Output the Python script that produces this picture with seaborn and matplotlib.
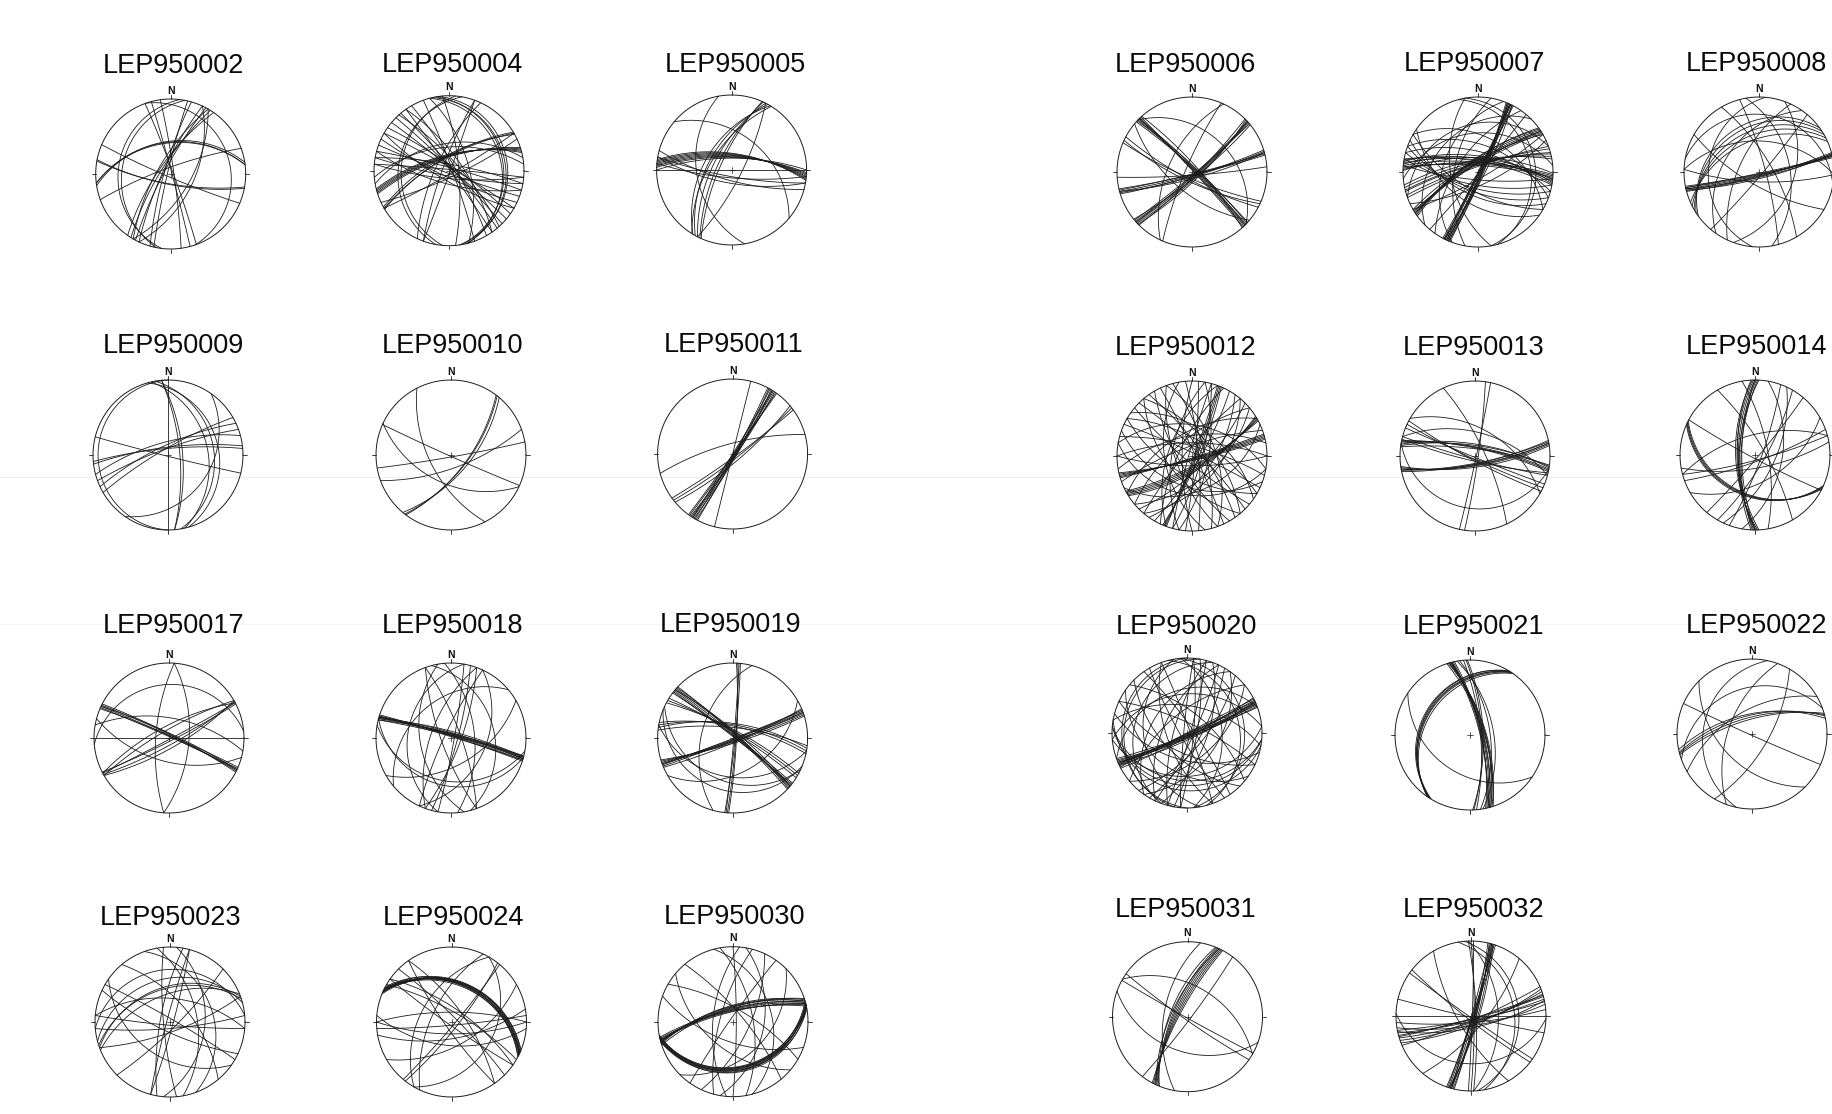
import numpy as np
import pandas as pd
import matplotlib
matplotlib.use("Agg")
import matplotlib.pyplot as plt
from matplotlib.lines import Line2D
import seaborn as sns

# Strike (dip direction = strike + 90) and dip, read from each stereonet
S002 = [263,263,261,100,101,113,187,191,341,193,196,205,208,212,210,215,340,345,352,250,30,25]
D002 = [44,45,43,75,74,85,20,24,13,85,80,78,80,75,70,72,86,88,85,80,60,55]
S004 = [239,240,241,254,255,253,256,252,347,350,345,352,315,320,325,330,310,305,300,325,318,280,285,275,95,100,105,60,65,20,200,205,340,345,190,185,355,260,265,110,115,120]
D004 = [70,71,68,68,67,69,66,70,16,18,20,14,85,84,88,80,86,82,85,70,75,80,85,88,78,82,70,85,80,88,80,70,85,60,22,25,75,50,55,86,80,75]
S005 = [275,273,277,270,278,272,276,274,207,209,205,211,204,212,27,310,95,100,90,100,105,170]
D005 = [68,70,66,72,65,71,67,69,62,55,68,50,72,58,75,40,78,80,90,70,74,40]
S006 = [314,315,316,313,317,312,318,315,48,49,47,50,46,45,51,48,75,76,74,77,73,75,86,314,203,113,115,118,205,130]
D006 = [85,83,87,82,88,84,80,86,82,84,80,86,78,83,81,85,85,87,83,86,84,80,85,33,80,80,75,78,55,60]
S007 = [25,24,26,23,27,22,28,25,26,24,23,27,237,238,236,239,235,237,240,234,275,277,273,279,271,280,272,278,274,276,255,258,252,260,250,256,100,105,110,95,115,120,125,300,290,285,345,350,200,190,215,225,60,65,170,40,250,265]
D007 = [88,86,89,85,87,84,88,83,90,85,82,80,75,77,73,79,71,78,74,72,75,72,78,70,68,74,76,66,80,69,78,75,80,72,82,77,70,65,60,78,55,62,45,40,50,60,20,15,40,55,60,30,80,70,50,88,25,35]
S008 = [77,76,78,75,79,77,76,78,240,243,237,246,234,350,185,330,40,272,92,280,20,205,120,345,215]
D008 = [85,84,86,83,87,82,80,88,33,38,28,44,24,45,22,70,85,45,75,15,40,60,70,80,40]
S009 = [0,355,350,347,344,180,104,265,263,240,245,250,255,35,355]
D009 = [90,68,27,34,22,4,88,80,78,80,75,80,70,30,72]
S010 = [153,38,40,37,114,115,80,70]
D010 = [58,65,62,66,88,48,87,70]
S011 = [32,30,34,28,36,31,33,29,35,32,14,52,50,54,255]
D011 = [86,88,85,87,89,84,87,85,88,90,90,82,78,85,74]
S012 = [75,76,74,77,73,60,61,59,62,58,21,22,20,23,35,40,45,50,15,10,5,355,345,340,335,325,320,315,305,300,295,285,280,270,260,250,240,230,220,205,200,195,190,180,170,160,150,140,130,120,110,100,90,65,30]
D012 = [85,84,86,83,87,72,74,70,76,68,85,83,87,80,60,50,70,55,75,65,85,80,70,55,85,75,60,80,50,65,85,75,45,70,60,75,55,65,80,70,55,85,60,75,50,65,70,55,80,60,45,35,75,40,78]
S013 = [280,278,282,279,281,277,80,81,79,82,78,80,12,8,300,100,115,118,112,105,103,335,285]
D013 = [76,74,78,72,77,79,77,75,79,73,78,76,88,85,50,20,85,83,88,85,82,75,55]
S014 = [180,181,179,182,178,180,183,177,115,116,114,117,118,40,20,70,75,80,60,25,30,255,350,10,330]
D014 = [65,67,63,69,61,70,66,64,33,34,32,35,85,85,80,80,82,70,50,60,75,60,70,50,75]
S017 = [295,296,294,297,293,295,62,63,61,60,240,242,90,265,280,105,4,184]
D017 = [87,85,88,84,86,83,88,85,80,75,78,72,90,19,60,55,60,70]
S018 = [286,287,285,288,284,286,287,285,286,284,10,15,20,25,200,205,190,170,160,355,345,340,60,100,105,230]
D018 = [85,86,84,87,83,82,88,80,84,86,85,80,75,40,60,80,30,45,75,55,30,75,50,30,25,35]
S019 = [310,311,309,312,308,310,313,307,70,71,69,72,68,70,73,67,5,4,6,3,280,282,278,276,300,302,298,115,112,100,60,195]
D019 = [85,83,87,82,88,80,84,86,88,86,89,84,87,85,82,83,88,85,86,84,70,72,68,74,80,82,78,30,20,35,40,45]
S020 = [66,67,65,68,64,66,69,63,67,65,70,62,5,10,15,20,25,30,35,40,50,85,95,105,115,125,135,150,160,170,185,195,205,215,230,250,265,280,295,310,325,340,355,345,200,190,355,180,100,95]
D020 = [88,86,89,85,87,84,83,90,82,80,86,84,80,75,85,60,80,70,45,65,50,30,25,50,60,35,55,80,60,30,85,70,55,40,60,30,35,50,75,60,80,85,40,20,20,10,15,8,15,20]
S021 = [345,346,344,347,343,345,348,342,346,344,213,214,212,215,211,213,124,357,355,358,352,350]
D021 = [70,72,68,74,66,71,73,69,75,67,25,27,23,29,24,26,35,72,74,70,60,55]
S022 = [192,250,114,255,256,254,258,240,30,200,135]
D022 = [24,27,88,65,62,68,60,55,65,55,45]
S023 = [250,252,248,255,265,275,85,95,115,15,5,350,340,320,190,195,175,300,70,45,125]
D023 = [40,42,50,30,20,55,80,85,75,85,40,50,30,60,75,85,80,85,75,80,40]
S024 = [295,296,294,297,293,295,298,292,296,294,40,38,205,210,30,300,305,315,325,80,85,90,95,270,125,145,60]
D024 = [35,36,34,37,33,38,35,34,33,36,85,80,60,45,30,75,70,82,70,65,85,72,55,75,85,80,55]
S030 = [77,78,76,79,75,77,80,74,78,76,255,256,254,257,253,255,258,252,256,254,350,0,10,25,45,185,195,215,300,320,110,130,345]
D030 = [25,26,24,27,23,28,24,26,22,27,70,72,68,74,66,71,73,69,75,67,60,85,45,65,40,60,70,85,70,75,60,50,35]
S031 = [205,206,204,207,203,205,208,202,300,119,125,37,190,110]
D031 = [72,74,70,76,68,66,78,64,45,88,85,85,55,40]
S032 = [16,17,15,18,14,16,19,13,17,15,73,77,71,79,69,75,81,67,78,74,90,103,125,128,85,0,2,358,355,350,358,92,40,150]
D032 = [85,87,83,88,82,80,86,84,78,89,80,82,78,84,76,85,75,83,72,86,90,88,88,84,80,85,88,82,25,30,50,25,70,70]

NAMES = ["LEP950002","LEP950004","LEP950005","LEP950006","LEP950007","LEP950008",
         "LEP950009","LEP950010","LEP950011","LEP950012","LEP950013","LEP950014",
         "LEP950017","LEP950018","LEP950019","LEP950020","LEP950021","LEP950022",
         "LEP950023","LEP950024","LEP950030","LEP950031","LEP950032"]
STRIKES = [S002,S004,S005,S006,S007,S008,S009,S010,S011,S012,S013,S014,S017,S018,S019,S020,S021,S022,S023,S024,S030,S031,S032]
DIPS = [D002,D004,D005,D006,D007,D008,D009,D010,D011,D012,D013,D014,D017,D018,D019,D020,D021,D022,D023,D024,D030,D031,D032]

# layout, in pixels of the 1832x1114 image
CX = [170.7,449,731.6,1192,1478,1759, 168,451,732.6,1192,1475,1755, 169,451,732.6,1187,1470,1752, 170,451.5,733,1187.5,1471]
CY = [174,170.7,170,172,172,172, 455,455,454,456,456,455, 738,738,738,733,735,734, 1022,1022,1021.7,1016.7,1016]
TX = [173,452,735.5,1185.5,1474,1756, 173,452,734,1186,1474,1756, 174,453,731,1186,1474,1756, 170.5,453,735,1186,1474]
TY = [66,65,65,65,64,64, 346,346,345,348,348,347, 626,626,625,627,627,626, 918,918,917,910,910]
W, H, R = 1832, 1114, 75

sns.set_theme(style="white")
plt.rcParams["font.family"] = ["Liberation Sans", "DejaVu Sans"]
INK = "#1c1c1c"


def great_circle(strike, dip):
    s, d = np.radians(strike), np.radians(dip)
    t = np.radians(np.linspace(0, 180, 121))
    e = np.sin(s) * np.cos(t) + np.cos(d) * np.cos(s) * np.sin(t)
    n = np.cos(s) * np.cos(t) - np.cos(d) * np.sin(s) * np.sin(t)
    z = np.sin(d) * np.sin(t)
    return e / (1 + z), n / (1 + z)


fig = plt.figure(figsize=(W / 100, H / 100), dpi=100, facecolor="white")
for yy, col in [(477, "#efefef"), (624, "#f6f6f6")]:
    fig.add_artist(Line2D([0, 1], [1 - yy / H] * 2, color=col, lw=0.8, zorder=-1))

for name, ss, dd, cx, cy, tx, ty in zip(NAMES, STRIKES, DIPS, CX, CY, TX, TY):
    m = 1.2
    px = R * m
    ax = fig.add_axes([(cx - px) / W, 1 - (cy + px) / H, 2 * px / W, 2 * px / H])
    ax.set_zorder(2)
    rows = []
    for i, (a, b) in enumerate(zip(ss, dd)):
        x, y = great_circle(a, b)
        rows.append(pd.DataFrame({"x": x, "y": y, "plane": i}))
    frame = pd.concat(rows, ignore_index=True)
    sns.lineplot(data=frame, x="x", y="y", units="plane", estimator=None, sort=False,
                 color=INK, lw=0.6, legend=False, ax=ax)
    th = np.linspace(0, 2 * np.pi, 361)
    ax.plot(np.cos(th), np.sin(th), color=INK, lw=0.7)
    for a, b in [((0, 0), (1, 1.05)), ((0, 0), (-1, -1.05)), ((1, 1.05), (0, 0)), ((-1, -1.05), (0, 0))]:
        ax.plot(a, b, color=INK, lw=0.6)
    ax.plot((-0.04, 0.04), (0, 0), color=INK, lw=0.5)
    ax.plot((0, 0), (-0.04, 0.04), color=INK, lw=0.5)
    ax.text(0, 1.11, "N", ha="center", va="center", fontsize=7.5, fontweight="bold", color="#111111")
    ax.set_xlim(-m, m)
    ax.set_ylim(-m, m)
    ax.axis("off")
    fig.text(tx / W, 1 - ty / H, name, ha="center", va="center", fontsize=19.5, color="#0a0a0a")

fig.savefig("out.png", dpi=100, facecolor="white")
